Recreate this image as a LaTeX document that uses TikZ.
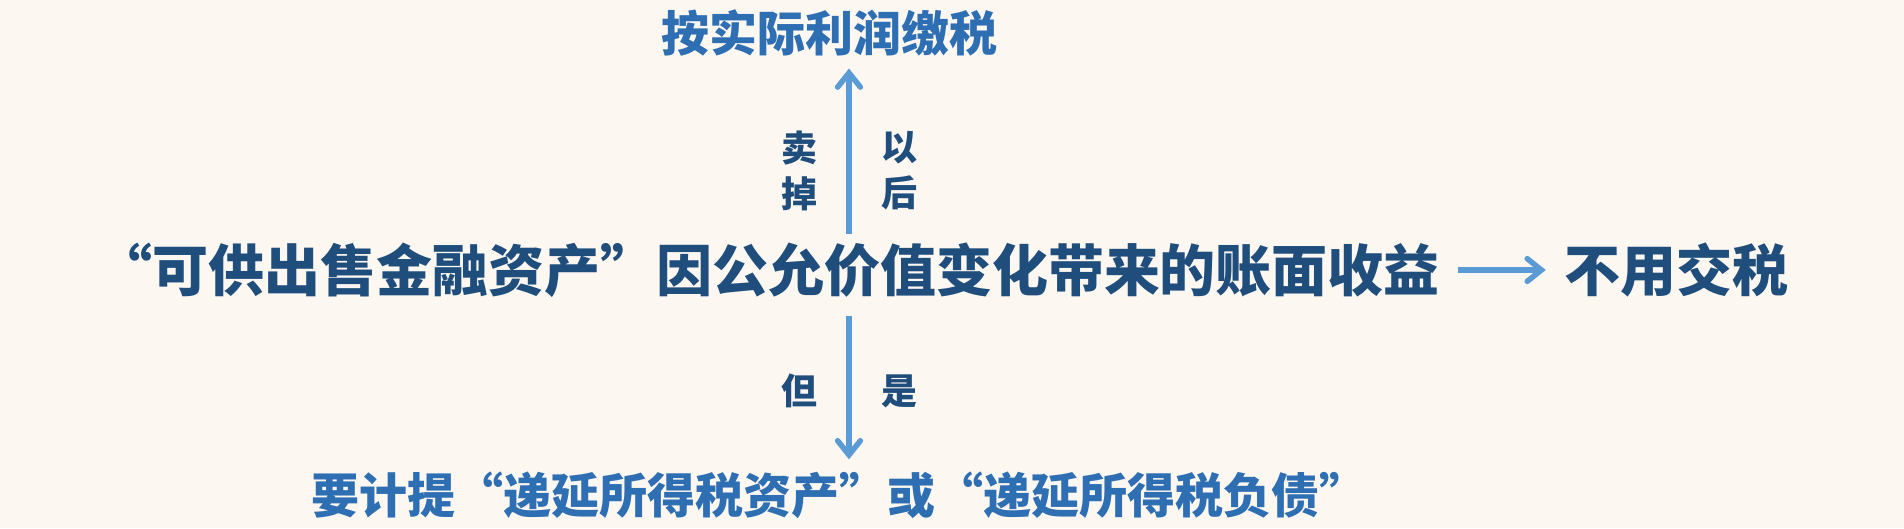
\documentclass[tikz,border=0pt]{standalone}
\usepackage{fontspec}
\usetikzlibrary{arrows.meta,positioning}
\newfontfamily\cjk{Noto Sans CJK SC}
\definecolor{paper}{HTML}{FCF7F1}
\definecolor{darkblue}{HTML}{1F4E7D}
\definecolor{midblue}{HTML}{2E6EB3}
\definecolor{arrowblue}{HTML}{5B9BD5}

\begin{document}
\begin{tikzpicture}[
          x=1pt,y=1pt,
          mainline/.style={
            text=darkblue,
            inner sep=0pt,
            font=\cjk\bfseries\fontsize{56}{60}\selectfont
          },
          result/.style={
            text=midblue,
            inner sep=0pt,
            font=\cjk\bfseries\fontsize{48}{52}\selectfont
          },
          side/.style={
            text=darkblue,
            inner sep=0pt,
            align=center,
            font=\cjk\bfseries\fontsize{36}{46}\selectfont
          },
          arr/.style={-{Straight Barb[length=5mm,width=8mm,line cap=round]},line width=5.5pt,draw=arrowblue}
        ]
        \fill[paper] (0,0) rectangle (1904,-528);
        \useasboundingbox (0,0) rectangle (1904,-528);
        \node[mainline] (gain) at (768,-270) {“可供出售金融资产”因公允价值变化带来的账面收益};
        \node[mainline] (notax) at (1676,-270) {不用交税};
        \node[result] (sold) at (829,-33) {按实际利润缴税};
        \node[result] (defer) at (839,-495) {要计提“递延所得税资产”或“递延所得税负债”};
        \coordinate (axis) at (849,0);
        \draw[arr] (gain.north -| axis) ++(0,8) -- ([yshift=-12pt]sold.south -| axis);
        \draw[arr] (gain.south -| axis) ++(0,-18) -- ([yshift=12pt]defer.north -| axis);
        \draw[arr] ([xshift=18pt]gain.east) -- ([xshift=-18pt]notax.west);
        \node[side] (sellL) at (799,-171) {卖\\掉};
        \node[side] (sellR) at (899,-171) {以\\后};
        \node[side] (butL) at (799,-391) {但};
        \node[side] (butR) at (899,-391) {是};
      \end{tikzpicture}
\end{document}
